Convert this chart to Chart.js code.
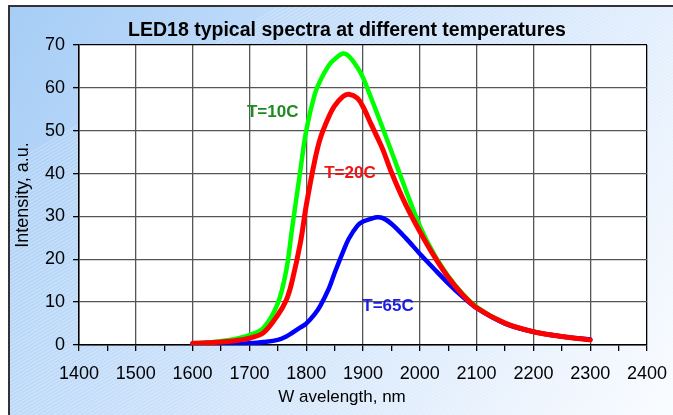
<!DOCTYPE html>
<html>
<head>
<meta charset="utf-8">
<script src="https://cdn.jsdelivr.net/npm/chart.js@4.4.1/dist/chart.umd.min.js"></script>
<style>
  html, body { margin: 0; padding: 0; background: #fff; }
  #wrap { width: 673px; height: 415px; }
</style>
</head>
<body>
<div id="wrap"><canvas id="ledChart" width="673" height="415"></canvas></div>
<script>
// wavelength, nm
const wavelengths = [1600, 1625, 1650, 1675, 1700, 1725, 1750, 1765, 1775, 1790, 1800, 1815, 1825,
                     1840, 1850, 1865, 1875, 1890, 1900, 1915, 1925, 1935, 1950, 1975, 2000,
                     2025, 2050, 2075, 2100, 2150, 2200, 2250, 2300];
// intensity, a.u.
const t10 = [0.4, 0.6, 0.9, 1.4, 2.3, 4.0, 9.7, 17.5, 27, 41, 50, 58.5, 61.8,
             65.3, 66.7, 68.0, 67.4, 64.8, 62.4, 57.4, 54.0, 50.5, 45.2, 36.3, 27.8,
             21.2, 16.1, 12.0, 8.9, 5.1, 3.1, 2.0, 1.2];
const t20 = [0.4, 0.5, 0.7, 1.0, 1.6, 2.9, 7, 10.5, 14.8, 24, 32.5, 43, 48.3,
             53.3, 55.8, 58, 58.5, 57.6, 55.6, 51.3, 48.5, 45.6, 40.3, 32.8, 26.5,
             20.8, 15.8, 11.8, 8.7, 5.1, 3.1, 2.0, 1.2];
const t65 = [0.2, 0.2, 0.25, 0.3, 0.4, 0.7, 1.2, 2.0, 2.8, 4.1, 5, 7.2, 9.2,
             13.2, 16.8, 21.8, 24.8, 27.8, 28.8, 29.5, 29.8, 29.6, 28.3, 25.0, 21.3,
             17.8, 14.4, 11.3, 8.6, 5.0, 3.1, 2.0, 1.3];

const xTicks = { min: 1400, max: 2400, step: 50 };
const yTicks = { min: 0, max: 70, step: 10 };

function pts(vals) {
  return vals.map(function (v, i) { return { x: wavelengths[i], y: v }; });
}

// curve labels, placed in data space (nm, a.u.)
const curveLabels = [
  { text: 'T=10C', nm: 1741, val: 54.4, color: '#1f8a1f' },
  { text: 'T=20C', nm: 1877, val: 40.1, color: '#f01414' },
  { text: 'T=65C', nm: 1944, val: 9.1, color: '#1c1ce6' }
];

const FONT = '"Liberation Sans", Arial, sans-serif';

const backdrop = {
  id: 'backdrop',
  beforeDraw(chart) {
    const ctx = chart.ctx, W = chart.width, H = chart.height;
    ctx.save();
    ctx.fillStyle = '#fff';
    ctx.fillRect(0, 0, W, H);
    const g = ctx.createLinearGradient(9, 6, W, H);
    g.addColorStop(0, '#a6cdf6');
    g.addColorStop(0.5, '#d0e4fb');
    g.addColorStop(1, '#fafcff');
    ctx.fillStyle = g;
    ctx.fillRect(9, 6, W - 9, H - 6);
    // faint diagonal hatching
    ctx.beginPath();
    ctx.rect(9, 6, W - 9, H - 6);
    ctx.clip();
    ctx.strokeStyle = 'rgba(255,255,255,0.3)';
    ctx.lineWidth = 1;
    for (let x = -H; x < W + H; x += 6) {
      ctx.beginPath();
      ctx.moveTo(x, H);
      ctx.lineTo(x + H * 1.7, 0);
      ctx.stroke();
    }
    ctx.restore();
    ctx.save();
    ctx.strokeStyle = '#333';
    ctx.lineWidth = 2;
    ctx.beginPath();
    ctx.moveTo(9, H);
    ctx.lineTo(9, 6);
    ctx.lineTo(W, 6);
    ctx.stroke();
    // plot area
    const a = chart.chartArea;
    ctx.fillStyle = '#fff';
    ctx.fillRect(a.left, a.top, a.right - a.left, a.bottom - a.top);
    // title and x axis title
    ctx.fillStyle = '#000';
    ctx.textAlign = 'center';
    ctx.textBaseline = 'middle';
    ctx.font = 'bold 19.5px ' + FONT;
    ctx.fillText('LED18 typical spectra at different temperatures', 347, 31);
    ctx.font = '17px ' + FONT;
    ctx.fillText('W avelength, nm', 342, 397);
    ctx.restore();
  },
  afterDatasetsDraw(chart) {
    const ctx = chart.ctx;
    const xs = chart.scales.x, ys = chart.scales.y;
    ctx.save();
    ctx.font = 'bold 17px ' + FONT;
    ctx.textAlign = 'center';
    ctx.textBaseline = 'middle';
    curveLabels.forEach(function (l) {
      ctx.fillStyle = l.color;
      ctx.fillText(l.text, xs.getPixelForValue(l.nm), ys.getPixelForValue(l.val));
    });
    ctx.restore();
  }
};

const axisFont = { family: FONT, size: 18 };

new Chart(document.getElementById('ledChart'), {
  type: 'line',
  data: {
    datasets: [
      { label: 'T=20C', data: pts(t20), borderColor: '#ff0000', borderWidth: 5, order: 0 },
      { label: 'T=65C', data: pts(t65), borderColor: '#0000ff', borderWidth: 4.5, order: 1 },
      { label: 'T=10C', data: pts(t10), borderColor: '#00ff00', borderWidth: 4.5, order: 2 }
    ]
  },
  options: {
    responsive: false,
    animation: false,
    parsing: false,
    elements: {
      point: { radius: 0 },
      line: { tension: 0.35, fill: false, borderCapStyle: 'round', borderJoinStyle: 'round' }
    },
    layout: { padding: { top: 45, left: 9, right: 26, bottom: 8 } },
    plugins: {
      legend: { display: false },
      tooltip: { enabled: false }
    },
    scales: {
      x: {
        type: 'linear',
        min: xTicks.min,
        max: xTicks.max,
        afterFit: function (s) { s.height = 62; s.paddingLeft = 0; s.paddingRight = 0; },
        ticks: {
          stepSize: xTicks.step,
          autoSkip: false,
          maxRotation: 0,
          padding: 12,
          color: '#000',
          font: axisFont,
          callback: function (v) { return v % 100 === 0 ? v : ''; }
        },
        grid: {
          color: function (c) {
            if (c.tick.value === xTicks.max) return '#000';
            return c.tick.value % 100 === 0 ? '#555' : 'rgba(0,0,0,0)';
          },
          lineWidth: 1.3,
          tickLength: 6,
          tickColor: '#000'
        },
        border: { color: '#000', width: 1.5 }
      },
      y: {
        min: yTicks.min,
        max: yTicks.max,
        afterFit: function (s) { s.width = 70; s.paddingTop = 0; s.paddingBottom = 0; },
        ticks: {
          stepSize: yTicks.step,
          padding: 8,
          color: '#000',
          font: axisFont
        },
        grid: {
          color: function (c) { return c.tick.value === yTicks.max ? '#000' : '#555'; },
          lineWidth: 1.3,
          tickLength: 6,
          tickColor: '#000'
        },
        border: { color: '#000', width: 1.5 },
        title: {
          display: true,
          text: 'Intensity, a.u.',
          color: '#000',
          font: { family: FONT, size: 18 },
          padding: { top: 3, bottom: 0 }
        }
      }
    }
  },
  plugins: [backdrop]
});
</script>
</body>
</html>
